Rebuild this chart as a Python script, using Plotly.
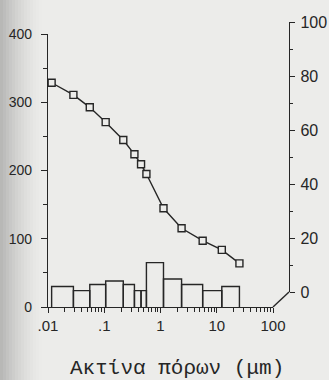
import plotly.graph_objects as go

# Pore radius (μm) at each measured point
radius = [0.0116, 0.0283, 0.0553, 0.106, 0.218, 0.344, 0.451, 0.562, 1.13, 2.37, 5.62, 12.3, 25.3]
# Cumulative porosity (%), right axis
cumulative = [77.5, 73.0, 68.4, 62.9, 56.3, 51.0, 47.3, 43.7, 31.0, 23.6, 19.0, 15.6, 10.6]
# Differential distribution between consecutive radii, left axis
differential = [30, 24, 33, 38, 33, 24, 24, 65, 41, 33, 24, 30]

left_ticks = [0, 100, 200, 300, 400]
right_ticks = [0, 20, 40, 60, 80, 100]
x_tickvals = [0.01, 0.1, 1, 10, 100]
x_ticktext = [".01", ".1", "1", "10", "100"]
x_minor = [m * 10 ** e for e in range(-2, 2) for m in range(2, 10)]
axis_title = "Ακτίνα πόρων (μm)"

INK = "#262626"
PAPER = "#ececea"

# Outline of each histogram bar, built from the edges and heights
bx, by = [], []
for i, h in enumerate(differential):
    x0, x1 = radius[i], radius[i + 1]
    bx += [x0, x0, x1, x1, None]
    by += [0, h, h, 0, None]

fig = go.Figure()
fig.add_trace(go.Scatter(
    x=bx, y=by, mode="lines", xaxis="x", yaxis="y",
    line=dict(color=INK, width=1.4), hoverinfo="skip", showlegend=False,
))
fig.add_trace(go.Scatter(
    x=radius, y=cumulative, mode="lines+markers", xaxis="x", yaxis="y2",
    line=dict(color=INK, width=1.4),
    marker=dict(symbol="square", size=7, color=PAPER, line=dict(color=INK, width=1.4)),
    showlegend=False, cliponaxis=False,
))

# geometry in pixels
W, H = 329, 380
ML, MR, MT, MB = 48, 40, 22, 73
pw, ph = W - ML - MR, H - MT - MB
x_end = (273 - ML) / pw          # right end of the front x axis
y2_lift = (307 - 292) / ph       # right axis is raised (back plane)
y_top = (307 - 34) / ph

tickfont = dict(family="Liberation Sans, Arial, sans-serif", size=14, color=INK)
common = dict(showgrid=False, zeroline=False, showline=True, linecolor=INK,
              linewidth=1.4, ticks="outside", tickwidth=1.3, tickcolor=INK,
              tickmode="array", automargin=False)

fig.update_layout(
    width=W, height=H,
    margin=dict(l=ML, r=MR, t=MT, b=MB, pad=0, autoexpand=False),
    paper_bgcolor=PAPER, plot_bgcolor="rgba(0,0,0,0)",
    xaxis=dict(
        common, type="log", range=[-2, 2], domain=[0, x_end], anchor="y",
        ticklen=5, tickvals=x_tickvals, ticktext=x_ticktext,
        tickfont=dict(tickfont, size=15),
        minor=dict(tickmode="array", tickvals=x_minor, ticks="outside",
                   ticklen=4, tickwidth=1.2, tickcolor=INK),
    ),
    yaxis=dict(
        common, range=[0, 400], domain=[0, y_top], anchor="x",
        ticklen=6, tickvals=left_ticks, tickfont=tickfont, ticklabelstandoff=6,
        minor=dict(tickmode="array", tickvals=[50, 150, 250, 350], ticks="outside",
                   ticklen=4, tickwidth=1.2, tickcolor=INK),
    ),
    yaxis2=dict(
        common, range=[0, 100], domain=[y2_lift, 1], anchor="free", position=1,
        side="right", ticklen=5, tickvals=right_ticks,
        tickfont=dict(tickfont, size=16), ticklabelstandoff=2,
        minor=dict(tickmode="array", tickvals=[10, 30, 50, 70, 90], ticks="outside",
                   ticklen=3, tickwidth=1.2, tickcolor=INK),
    ),
)

# soft darker scan shading along the left margin
steps = 14
for k in range(steps):
    px0 = k * 3
    a = 0.22 * (1 - k / steps) ** 1.6
    fig.add_shape(type="rect", xref="paper", yref="paper",
                  x0=(px0 - ML) / pw, x1=(px0 + 3 - ML) / pw, y0=-MB / ph, y1=1 + MT / ph,
                  fillcolor=f"rgba(0,0,0,{a:.3f})", line=dict(width=0), layer="below")

# oblique edge joining the front x axis to the raised right axis
fig.add_shape(type="line", xref="paper", yref="paper",
              x0=x_end, y0=0, x1=1, y1=y2_lift, line=dict(color=INK, width=1.4))

fig.add_annotation(
    text=axis_title, xref="paper", yref="paper",
    x=(177 - ML) / pw, y=(307 - 368) / ph, xanchor="center", yanchor="middle",
    showarrow=False, font=dict(family="Liberation Mono, monospace", size=21, color=INK),
)

fig.write_html("out.html")
